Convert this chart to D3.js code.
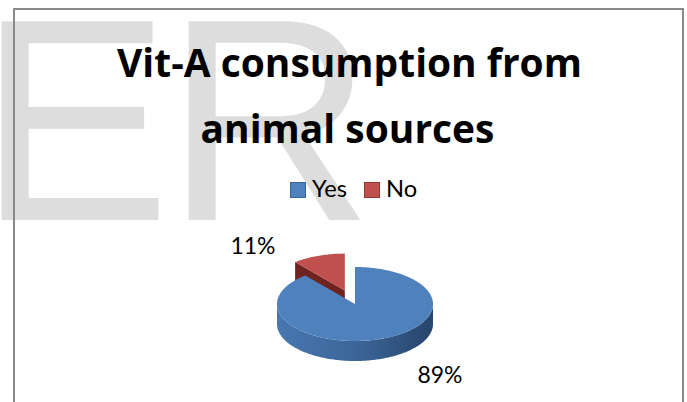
<!DOCTYPE html>
<html><head><meta charset="utf-8">
<script src="https://cdn.jsdelivr.net/npm/d3@7"></script>
<style>html,body{margin:0;padding:0;background:#fff;overflow:hidden}</style>
</head><body><svg id="c" width="687" height="402"></svg>
<script>
// ---- data ----
const titleLines = ["Vit-A consumption from", "animal sources"];
const categories = ["Yes", "No"];
const values = [89, 11];
const exploded = [false, true];
const watermarkLetters = ["E", "R"];

// ---- styles / layout ----
const topColors = ["#4f81bd", "#c0504d"];
const strokeColors = ["#3a6496", "#943634"];
const W = 687, H = 402;
const svg = d3.select("#c");
const defs = svg.append("defs");

// watermark
const wm = svg.append("g").attr("fill", "#dddddd")
  .style("font-family", "'Liberation Sans', Arial, sans-serif").style("font-size", "289px");
const wmX = [-22, 165];
watermarkLetters.forEach((t, i) => wm.append("text").attr("x", wmX[i]).attr("y", 220).text(t));

function fit(sel, target) {
  const n = sel.node();
  const fs = parseFloat(sel.style("font-size"));
  const w = n.getComputedTextLength();
  sel.style("font-size", (fs * target / w) + "px");
  return fs * target / w;
}

// title: heavy sans, slightly condensed to match width
const titleFont = "'Open Sans', Lato, sans-serif";
const titleSpecs = [{x: 349.5, y: 77, w: 465}, {x: 347.5, y: 143, w: 295}];
let sx = 1;
titleLines.forEach((t, i) => {
  const g = svg.append("g").attr("transform", `translate(${titleSpecs[i].x},${titleSpecs[i].y})`);
  const tx = g.append("text").attr("x", 0).attr("y", 0).attr("text-anchor", "middle")
    .style("font-family", titleFont).style("font-weight", "bold").style("font-size", "39px").text(t);
  if (i === 0) sx = titleSpecs[0].w / tx.node().getComputedTextLength();
  g.attr("transform", `translate(${titleSpecs[i].x},${titleSpecs[i].y}) scale(${sx},1)`);
});

// legend
const smallFont = "Lato, 'Open Sans', sans-serif";
const legX = d3.scaleOrdinal().domain(categories).range([290, 364]);
const leg = svg.append("g");
categories.forEach((c, i) => {
  leg.append("rect").attr("x", legX(c) + 0.5).attr("y", 182.5).attr("width", 15).attr("height", 15)
    .attr("fill", topColors[i]).attr("stroke", strokeColors[i]).attr("stroke-width", 1);
  leg.append("text").attr("x", legX(c) + 22).attr("y", 197)
    .style("font-family", smallFont).style("font-size", "22px").text(c);
});
const legendTexts = leg.selectAll("text");
{
  const yes = d3.select(legendTexts.nodes()[0]);
  const fs = fit(yes, 35);
  legendTexts.style("font-size", fs + "px");
}

// ---- 3D pie ----
const cx = 355, cy = 304, rx = 78, ry = 37, depth = 20, explodeDist = 30;
const arcs = d3.pie().sort(null).value(d => d)(values);

function pt(a, o, z) { return [cx + o[0] + rx * Math.sin(a), cy + o[1] - ry * Math.cos(a) + z]; }
const line = d3.line();
function arcPts(a0, a1, o, z) {
  const n = Math.max(2, Math.ceil(Math.abs(a1 - a0) / 0.02));
  return d3.range(n + 1).map(k => pt(a0 + (a1 - a0) * k / n, o, z));
}

const sideGrad = defs.append("linearGradient").attr("id", "sideBlue")
  .attr("gradientUnits", "userSpaceOnUse").attr("x1", cx - rx).attr("x2", cx + rx).attr("y1", 0).attr("y2", 0);
sideGrad.append("stop").attr("offset", 0).attr("stop-color", "#4877b1");
sideGrad.append("stop").attr("offset", 0.5).attr("stop-color", "#3c6699");
sideGrad.append("stop").attr("offset", 1).attr("stop-color", "#27456c");
const sideGradR = defs.append("linearGradient").attr("id", "sideRed")
  .attr("gradientUnits", "userSpaceOnUse").attr("x1", cx - rx).attr("x2", cx + rx).attr("y1", 0).attr("y2", 0);
sideGradR.append("stop").attr("offset", 0).attr("stop-color", "#9a3b39");
sideGradR.append("stop").attr("offset", 1).attr("stop-color", "#6a1f1d");
const sideFills = ["url(#sideBlue)", "url(#sideRed)"];
const faceFills = ["#2f5386", "#6f2321"];

const order = arcs.map((d, i) => i).sort((a, b) => {
  const ma = (arcs[a].startAngle + arcs[a].endAngle) / 2, mb = (arcs[b].startAngle + arcs[b].endAngle) / 2;
  return Math.cos(mb) - Math.cos(ma);
});
const pieG = svg.append("g");
order.forEach(i => {
  const d = arcs[i];
  const a0 = d.startAngle, a1 = d.endAngle, mid = (a0 + a1) / 2;
  const o = exploded[i] ? [explodeDist * Math.sin(mid), -explodeDist * Math.cos(mid) * ry / rx] : [0, 0];
  const apex = [cx + o[0], cy + o[1]];
  const apexB = [apex[0], apex[1] + depth];
  const g = pieG.append("g");
  if (Math.sin(a0) < -1e-6) {
    g.append("path").attr("d", line([apex, pt(a0, o, 0), pt(a0, o, depth), apexB]) + "Z").attr("fill", faceFills[i]);
  }
  if (Math.sin(a1) > 1e-6) {
    g.append("path").attr("d", line([apex, pt(a1, o, 0), pt(a1, o, depth), apexB]) + "Z").attr("fill", faceFills[i]);
  }
  const s = Math.max(a0, Math.PI / 2), e = Math.min(a1, 3 * Math.PI / 2);
  if (e > s) {
    const top = arcPts(s, e, o, 0), bot = arcPts(e, s, o, depth);
    g.append("path").attr("d", line(top.concat(bot)) + "Z").attr("fill", sideFills[i]);
  }
  g.append("path").attr("d", line([apex].concat(arcPts(a0, a1, o, 0))) + "Z").attr("fill", topColors[i]);
});

// data labels
const labelOffsets = [[85, 79], [-102, -50]];
const lblG = svg.append("g");
arcs.forEach((d, i) => {
  lblG.append("text").attr("x", cx + labelOffsets[i][0]).attr("y", cy + labelOffsets[i][1]).attr("text-anchor", "middle")
    .style("font-family", smallFont).style("font-size", "22px").text(Math.round(d.value / d3.sum(values) * 100) + "%");
});
{
  const n = d3.select(lblG.selectAll("text").nodes()[0]);
  const fs = fit(n, 45);
  lblG.selectAll("text").style("font-size", fs + "px");
}

// border
svg.append("rect").attr("x", 14).attr("y", 9).attr("width", 669).attr("height", 430)
  .attr("fill", "none").attr("stroke", "#8a8a8a").attr("stroke-width", 2);
</script>
</body></html>
